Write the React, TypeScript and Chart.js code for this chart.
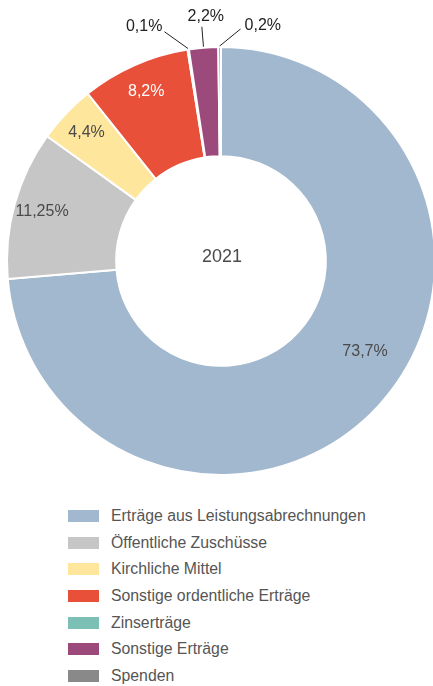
import React, { useEffect, useRef } from "react";
import { Chart, registerables } from "chart.js";

Chart.register(...registerables);

const categories = [
  "Erträge aus Leistungsabrechnungen",
  "Öffentliche Zuschüsse",
  "Kirchliche Mittel",
  "Sonstige ordentliche Erträge",
  "Zinserträge",
  "Sonstige Erträge",
  "Spenden",
];
const values = [73.7, 11.25, 4.4, 8.2, 0.1, 2.2, 0.2];
const colors = ["#a2b8cf", "#c6c6c6", "#fee69c", "#e8503a", "#7bbfb5", "#9c4a7c", "#898989"];
const labelColors = ["#4a4a4a", "#4a4a4a", "#4a4a4a", "#ffffff", "#222222", "#222222", "#222222"];
const centerLabel = "2021";
const FONT = '"Liberation Sans", Arial, Helvetica, sans-serif';

const fmt = (v: number) => String(v).replace(".", ",") + "%";

const labelPlugin = {
  id: "sliceLabels",
  afterDatasetsDraw(chart: any) {
    const ctx = chart.ctx as CanvasRenderingContext2D;
    const meta = chart.getDatasetMeta(0);
    const small: any[] = [];
    ctx.save();
    ctx.font = `16px ${FONT}`;
    meta.data.forEach((arc: any, i: number) => {
      const p = arc.getProps(["startAngle", "endAngle", "outerRadius", "innerRadius", "x", "y"], true);
      let mid = (p.startAngle + p.endAngle) / 2;
      if (values[i] < 3) {
        small.push({ i, mid, ...p });
      } else {
        let f = 0.74;
        if (p.endAngle - p.startAngle > Math.PI) {
          mid -= 0.18;
          f = 0.6;
        }
        const r = p.innerRadius + (p.outerRadius - p.innerRadius) * f;
        ctx.fillStyle = labelColors[i];
        ctx.textAlign = "center";
        ctx.textBaseline = "middle";
        ctx.fillText(fmt(values[i]), p.x + Math.cos(mid) * r, p.y + Math.sin(mid) * r);
      }
    });
    const n = small.length;
    small.forEach((s, k) => {
      const dir = k - (n - 1) / 2;
      const cx = Math.cos(s.mid), sy = Math.sin(s.mid);
      const R = s.outerRadius + 1;
      const x0 = s.x + cx * R, y0 = s.y + sy * R;
      const ext = dir === 0 ? 20 : 17;
      const x1 = x0 + cx * ext + dir * 21;
      const y1 = y0 + sy * ext;
      ctx.strokeStyle = "#222";
      ctx.lineWidth = 1;
      ctx.beginPath();
      ctx.moveTo(x0, y0);
      ctx.lineTo(x1, y1);
      ctx.stroke();
      ctx.fillStyle = labelColors[s.i];
      ctx.textBaseline = "middle";
      if (dir < 0) {
        ctx.textAlign = "right";
        ctx.fillText(fmt(values[s.i]), x1 - 2, y1 - 5);
      } else if (dir > 0) {
        ctx.textAlign = "left";
        ctx.fillText(fmt(values[s.i]), x1 + 4, y1 - 3);
      } else {
        ctx.textAlign = "center";
        ctx.fillText(fmt(values[s.i]), x1 + 4, y1 - 10);
      }
    });
    const a0 = meta.data[0];
    ctx.font = `18px ${FONT}`;
    ctx.fillStyle = "#4a4a4a";
    ctx.textAlign = "center";
    ctx.textBaseline = "middle";
    ctx.fillText(centerLabel, a0.x + 1, a0.y - 4);
    ctx.restore();
  },
};

export default function App() {
  const ref = useRef<HTMLCanvasElement | null>(null);
  useEffect(() => {
    document.body.style.margin = "0";
    const chart = new Chart(ref.current as HTMLCanvasElement, {
      type: "doughnut",
      data: {
        labels: categories,
        datasets: [
          {
            data: values,
            backgroundColor: colors,
            borderColor: "#ffffff",
            borderWidth: 2,
          },
        ],
      },
      options: {
        responsive: false,
        animation: false,
        cutout: "49%",
        layout: { padding: { top: 46, bottom: 4, left: 6, right: 6 } },
        plugins: { legend: { display: false }, tooltip: { enabled: false } },
      },
      plugins: [labelPlugin],
    });
    return () => chart.destroy();
  }, []);

  return (
    <div style={{ width: 433, height: 686, overflow: "hidden", position: "relative", fontFamily: FONT }}>
      <canvas ref={ref} width={442} height={480} style={{ display: "block" }} />
      <div style={{ position: "absolute", left: 0, top: 502.7 }}>
        {categories.map((c, i) => (
          <div key={c} style={{ height: 26.67, display: "flex", alignItems: "center" }}>
            <span
              style={{
                display: "inline-block",
                width: 31,
                height: 12,
                marginLeft: 68,
                marginRight: 12,
                background: colors[i],
              }}
            />
            <span style={{ fontSize: 15.8, color: "#555", whiteSpace: "nowrap" }}>{c}</span>
          </div>
        ))}
      </div>
    </div>
  );
}
